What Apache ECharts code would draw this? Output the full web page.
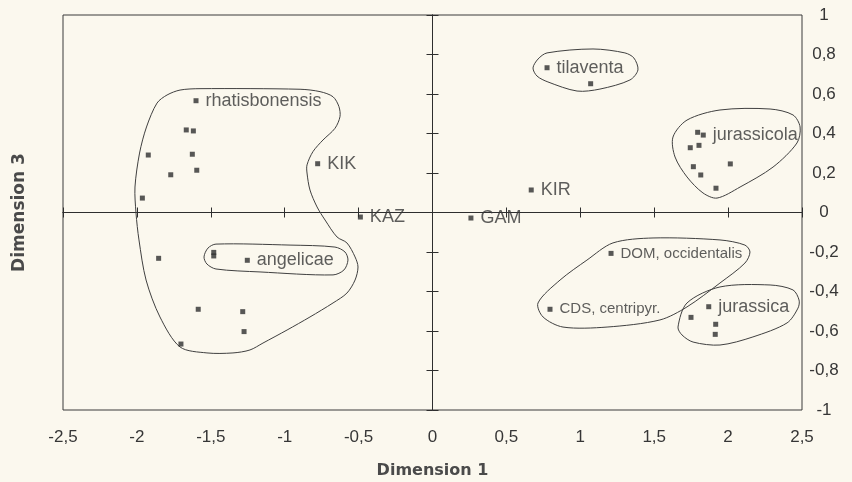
<!DOCTYPE html>
<html>
<head>
<meta charset="utf-8">
<script src="https://cdn.jsdelivr.net/npm/echarts@6/dist/echarts.min.js"></script>
<style>
  html, body { margin: 0; padding: 0; background: #fbf8ee; }
  #chart { width: 852px; height: 482px; }
</style>
</head>
<body>
<div id="chart"></div>
<script>
// Ordination scores: Dimension 1 vs Dimension 3
const dim1 = [-1.600, -1.666, -1.618, -1.923, -1.625, -1.771, -1.595, -1.963,
              -0.777, -0.488, 0.260, 0.668,
              0.775, 1.070,
              1.794, 1.832, 1.744, 1.803, 2.015, 1.765, 1.815, 1.918,
              -1.853, -1.480, -1.480, -1.253, -1.585, -1.284, -1.275, -1.702,
              1.208, 0.795,
              1.869, 1.749, 1.916, 1.913];
const dim3 = [0.566, 0.418, 0.413, 0.291, 0.295, 0.191, 0.214, 0.073,
              0.247, -0.023, -0.028, 0.114,
              0.733, 0.652,
              0.406, 0.392, 0.328, 0.340, 0.246, 0.232, 0.190, 0.123,
              -0.232, -0.202, -0.220, -0.242, -0.490, -0.502, -0.603, -0.666,
              -0.207, -0.490,
              -0.477, -0.531, -0.566, -0.617];
const tags = ['rhatisbonensis', '', '', '', '', '', '', '',
              'KIK', 'KAZ', 'GAM', 'KIR',
              'tilaventa', '',
              '', 'jurassicola', '', '', '', '', '', '',
              '', '', '', 'angelicae', '', '', '', '',
              'DOM, occidentalis', 'CDS, centripyr.',
              'jurassica', '', '', ''];
// labels set in the smaller size
const smallTags = ['DOM, occidentalis', 'CDS, centripyr.'];

// Axis ticks
const xTickLabels = ['-2,5', '-2', '-1,5', '-1', '-0,5', '0', '0,5', '1', '1,5', '2', '2,5'];
const yTickLabels = ['-1', '-0,8', '-0,6', '-0,4', '-0,2', '0', '0,2', '0,4', '0,6', '0,8', '1'];

// Group outlines (closed curves, in Dimension 1 / Dimension 3 units)
const outlineRhatisbonensis = [
  [-1.864, 0.554], [-1.796, 0.595], [-1.708, 0.620], [-1.573, 0.627], [-0.896, 0.624],
  [-0.761, 0.612], [-0.673, 0.586], [-0.633, 0.536], [-0.626, 0.485], [-0.660, 0.426],
  [-0.741, 0.367], [-0.809, 0.308], [-0.849, 0.241], [-0.849, 0.200], [-0.829, 0.114],
  [-0.781, 0.028], [-0.727, -0.038], [-0.646, -0.124], [-0.579, -0.154], [-0.524, -0.225],
  [-0.504, -0.276], [-0.524, -0.342], [-0.579, -0.408], [-0.673, -0.458], [-0.829, -0.529],
  [-0.984, -0.595], [-1.147, -0.661], [-1.235, -0.696], [-1.350, -0.711], [-1.526, -0.711],
  [-1.708, -0.681], [-1.844, -0.529], [-1.938, -0.342], [-1.986, -0.139], [-2.006, -0.003],
  [-2.013, 0.129], [-1.982, 0.301], [-1.935, 0.433]
];
const outlineAngelicae = [
  [-1.546, -0.225], [-1.519, -0.180], [-1.465, -0.160], [-0.964, -0.165], [-0.660, -0.175],
  [-0.592, -0.200], [-0.572, -0.241], [-0.599, -0.291], [-0.673, -0.316], [-1.167, -0.301],
  [-1.465, -0.286], [-1.526, -0.261]
];
const outlineTilaventa = [
  [0.680, 0.732], [0.714, 0.777], [0.775, 0.808], [1.086, 0.828], [1.302, 0.808],
  [1.363, 0.782], [1.390, 0.722], [1.336, 0.671], [1.133, 0.625], [0.978, 0.615],
  [0.781, 0.661], [0.707, 0.691]
];
const outlineJurassicola = [
  [1.627, 0.382], [1.722, 0.468], [1.945, 0.519], [2.284, 0.524], [2.439, 0.494],
  [2.487, 0.433], [2.466, 0.352], [2.304, 0.230], [2.081, 0.129], [1.925, 0.073],
  [1.830, 0.099], [1.722, 0.180], [1.641, 0.281]
];
const outlineOccidentalis = [
  [0.714, -0.458], [0.863, -0.342], [1.045, -0.241], [1.221, -0.154], [1.492, -0.129],
  [1.945, -0.139], [2.114, -0.165], [2.148, -0.200], [2.114, -0.256], [1.945, -0.357],
  [1.722, -0.478], [1.539, -0.544], [1.181, -0.580], [0.883, -0.580], [0.748, -0.529]
];
const outlineJurassica = [
  [1.661, -0.580], [1.722, -0.458], [1.945, -0.377], [2.284, -0.367], [2.439, -0.392],
  [2.480, -0.443], [2.473, -0.484], [2.399, -0.559], [2.168, -0.630], [1.945, -0.671],
  [1.763, -0.656], [1.688, -0.620]
];
const outlines = [outlineRhatisbonensis, outlineAngelicae, outlineTilaventa,
                  outlineJurassicola, outlineOccidentalis, outlineJurassica];

const X_MIN = -2.5, X_MAX = 2.5, X_STEP = 0.5;
const Y_MIN = -1, Y_MAX = 1, Y_STEP = 0.2;
const INK = '#2e2e2e';
const TEXT = '#363636';
const SANS = "'Liberation Sans', Arial, sans-serif";
const BOLD = "'DejaVu Sans', sans-serif";

const chart = echarts.init(document.getElementById('chart'), null, { renderer: 'canvas' });

const xFmt = v => xTickLabels[Math.round((v - X_MIN) / X_STEP)] ?? '';
const yFmt = v => yTickLabels[Math.round((v - Y_MIN) / Y_STEP)] ?? '';

function baseX(extra) {
  return Object.assign({
    type: 'value', min: X_MIN, max: X_MAX, interval: X_STEP,
    splitLine: { show: false }, axisLabel: { show: false }
  }, extra);
}
function baseY(extra) {
  return Object.assign({
    type: 'value', min: Y_MIN, max: Y_MAX, interval: Y_STEP,
    splitLine: { show: false }, axisLabel: { show: false }
  }, extra);
}
const crossLine = { show: true, onZero: true, onZeroAxisIndex: 0, lineStyle: { color: INK, width: 1 } };

const points = dim1.map((x, i) => {
  const item = { value: [x, dim3[i]], tag: tags[i] };
  if (smallTags.includes(tags[i])) {
    item.label = { fontSize: 15 };
  }
  return item;
});

function outlineSeries(pts) {
  return {
    type: 'custom',
    xAxisIndex: 0, yAxisIndex: 0,
    silent: true, z: 1, clip: false,
    data: pts,
    renderItem: function (params, api) {
      if (params.dataIndex !== 0) return null;
      return {
        type: 'polygon',
        shape: { points: pts.map(p => api.coord(p)), smooth: 0.3 },
        style: { fill: 'none', stroke: '#404040', lineWidth: 1 }
      };
    }
  };
}

chart.setOption({
  backgroundColor: '#fbf8ee',
  animation: false,
  grid: {
    left: 63, right: 50, top: 15, bottom: 72,
    outerBoundsMode: 'none',
    show: true, borderColor: '#3a3a3a', borderWidth: 1, backgroundColor: 'transparent'
  },
  xAxis: [
    baseX({
      position: 'bottom',
      axisLine: { show: false, onZero: false }, axisTick: { show: false },
      axisLabel: { show: true, margin: 19, color: TEXT, fontFamily: SANS, fontSize: 17, formatter: xFmt },
      name: 'Dimension 1', nameLocation: 'middle', nameGap: 53,
      nameTextStyle: { fontFamily: BOLD, fontWeight: 'bold', fontSize: 16, color: '#4a4a4a' }
    }),
    baseX({ position: 'bottom', axisLine: crossLine, axisTick: { show: true, length: 5, lineStyle: { color: INK } } }),
    baseX({ position: 'top', axisLine: crossLine, axisTick: { show: true, length: 5, lineStyle: { color: INK } } })
  ],
  yAxis: [
    baseY({
      position: 'left',
      axisLine: { show: false, onZero: false }, axisTick: { show: false },
      name: 'Dimension 3', nameLocation: 'middle', nameGap: 35,
      nameTextStyle: { fontFamily: BOLD, fontWeight: 'bold', fontSize: 17, color: '#4a4a4a' }
    }),
    baseY({
      position: 'right',
      axisLine: { show: false, onZero: false }, axisTick: { show: false },
      axisLabel: { show: true, margin: 22, align: 'center', color: TEXT, fontFamily: SANS, fontSize: 17, formatter: yFmt }
    }),
    baseY({ position: 'left', axisLine: crossLine, axisTick: { show: true, length: 6, lineStyle: { color: INK } } }),
    baseY({ position: 'right', axisLine: crossLine, axisTick: { show: true, length: 6, lineStyle: { color: INK } } })
  ],
  series: outlines.map(outlineSeries).concat([{
    type: 'scatter',
    xAxisIndex: 0, yAxisIndex: 0, z: 3,
    symbol: 'rect', symbolSize: 5,
    itemStyle: { color: INK },
    data: points,
    label: {
      show: true, position: 'right', distance: 7,
      color: TEXT, fontFamily: SANS, fontSize: 18,
      formatter: p => p.data.tag
    },
    labelLayout: { hideOverlap: false }
  }])
});
</script>
</body>
</html>
